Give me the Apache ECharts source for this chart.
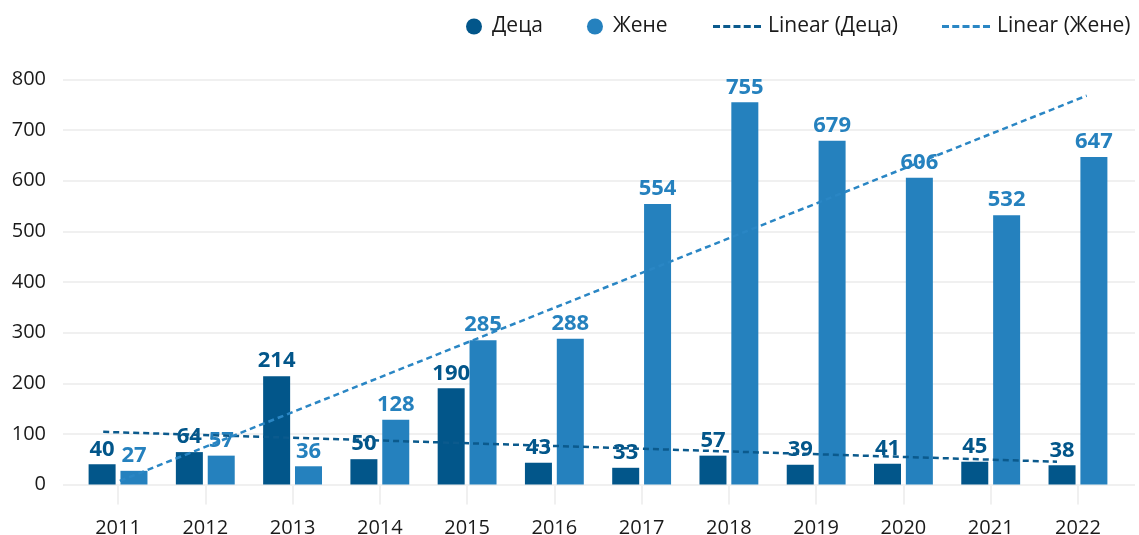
<!DOCTYPE html>
<html>
<head>
<meta charset="utf-8">
<script src="https://cdn.jsdelivr.net/npm/echarts@6/dist/echarts.min.js"></script>
<style>
  html, body { margin: 0; padding: 0; background: #ffffff; }
  #chart { width: 1139px; height: 535px; }
</style>
</head>
<body>
<div id="chart"></div>
<script>
// Categories and values
const years = ['2011', '2012', '2013', '2014', '2015', '2016', '2017', '2018', '2019', '2020', '2021', '2022'];
const deca  = [40, 64, 214, 50, 190, 43, 33, 57, 39, 41, 45, 38];
const zhene = [27, 57, 36, 128, 285, 288, 554, 755, 679, 606, 532, 647];

// Linear trend lines: start/end positions (in category index units) and values
const trendDecaX  = [-0.17, 10.76];
const trendDecaY  = [104, 45];
const trendZheneX = [0.02, 11.10];
const trendZheneY = [7, 768];

// Y axis range
const yMin = 0, yMax = 800, yStep = 100;

const names = { deca: 'Деца', zhene: 'Жене', linDeca: 'Linear (Деца)', linZhene: 'Linear (Жене)' };

const C_DARK = '#02568a';
const C_LIGHT = '#2581be';
const C_TREND_DARK = '#0b5a8d';
const C_TREND_LIGHT = '#2a86c4';
const FONT = '"Open Sans", "Noto Sans", sans-serif';
const GRID_COLOR = '#f0f0f0';
const TEXT_COLOR = '#1a1a1a';

const pairs = (xs, ys) => xs.map((x, i) => [x, ys[i]]);

const chart = echarts.init(document.getElementById('chart'), null, { renderer: 'canvas' });

// five short dashes, used as the legend swatch of the trend lines
const dashIcon = 'path://M0,0h7v3h-7zM10.25,0h7v3h-7zM20.5,0h7v3h-7zM30.75,0h7v3h-7zM41,0h7v3h-7z';

const barLabel = (color) => ({
  show: true, position: 'top', distance: 4,
  fontSize: 22, fontWeight: 'bold', color: color, fontFamily: FONT
});

const option = {
  backgroundColor: '#ffffff',
  textStyle: { fontFamily: FONT },
  animation: false,
  legend: [
    {
      left: 466, top: 16, padding: 0,
      itemWidth: 16, itemHeight: 16, itemGap: 44,
      icon: 'circle',
      textStyle: { fontSize: 21, color: TEXT_COLOR, fontFamily: FONT, padding: [0, 0, 0, 5] },
      data: [names.deca, names.zhene]
    },
    {
      left: 713, top: 16, padding: 0,
      itemWidth: 48, itemHeight: 3, itemGap: 44,
      textStyle: { fontSize: 21, color: TEXT_COLOR, fontFamily: FONT, padding: [0, 0, 0, 2] },
      data: [
        { name: names.linDeca, icon: dashIcon },
        { name: names.linZhene, icon: dashIcon }
      ]
    }
  ],
  grid: [
    { left: 74.4, right: 17.4, top: 79.5, bottom: 50.5, outerBoundsMode: 'none', containLabel: false },
    { left: 63, right: 4, top: 79.5, bottom: 50.5, outerBoundsMode: 'none', containLabel: false }
  ],
  xAxis: [
    {
      type: 'category', gridIndex: 0, data: years,
      axisLine: { show: false },
      axisTick: { show: true, alignWithLabel: true, length: 20, lineStyle: { color: GRID_COLOR, width: 2 } },
      axisLabel: { fontSize: 20, color: TEXT_COLOR, margin: 34, fontFamily: FONT },
      splitLine: { show: false }
    },
    { type: 'value', gridIndex: 0, min: -0.5, max: 11.5, show: false },
    { type: 'value', gridIndex: 1, min: 0, max: 1, show: false }
  ],
  yAxis: [
    { type: 'value', gridIndex: 0, min: yMin, max: yMax, interval: yStep, show: false },
    {
      type: 'value', gridIndex: 1, min: yMin, max: yMax, interval: yStep,
      axisLine: { show: false }, axisTick: { show: false },
      axisLabel: { fontSize: 20, color: TEXT_COLOR, margin: 17, fontFamily: FONT },
      splitLine: { show: true, lineStyle: { color: GRID_COLOR, width: 2 } }
    }
  ],
  series: [
    {
      name: names.deca, type: 'bar', xAxisIndex: 0, yAxisIndex: 0,
      data: deca, barWidth: 27, barGap: '18%',
      itemStyle: { color: C_DARK },
      label: barLabel(C_DARK)
    },
    {
      name: names.zhene, type: 'bar', xAxisIndex: 0, yAxisIndex: 0,
      data: zhene, barWidth: 27, barGap: '18%',
      itemStyle: { color: C_LIGHT },
      label: barLabel(C_LIGHT)
    },
    {
      name: names.linDeca, type: 'line', xAxisIndex: 1, yAxisIndex: 0,
      data: pairs(trendDecaX, trendDecaY), symbol: 'none', z: 3,
      itemStyle: { color: C_TREND_DARK },
      lineStyle: { color: C_TREND_DARK, width: 2.5, type: [6, 4] }
    },
    {
      name: names.linZhene, type: 'line', xAxisIndex: 1, yAxisIndex: 0,
      data: pairs(trendZheneX, trendZheneY), symbol: 'none', z: 3,
      itemStyle: { color: C_TREND_LIGHT },
      lineStyle: { color: C_TREND_LIGHT, width: 2.5, type: [6, 4] }
    }
  ]
};

chart.setOption(option);
</script>
</body>
</html>
